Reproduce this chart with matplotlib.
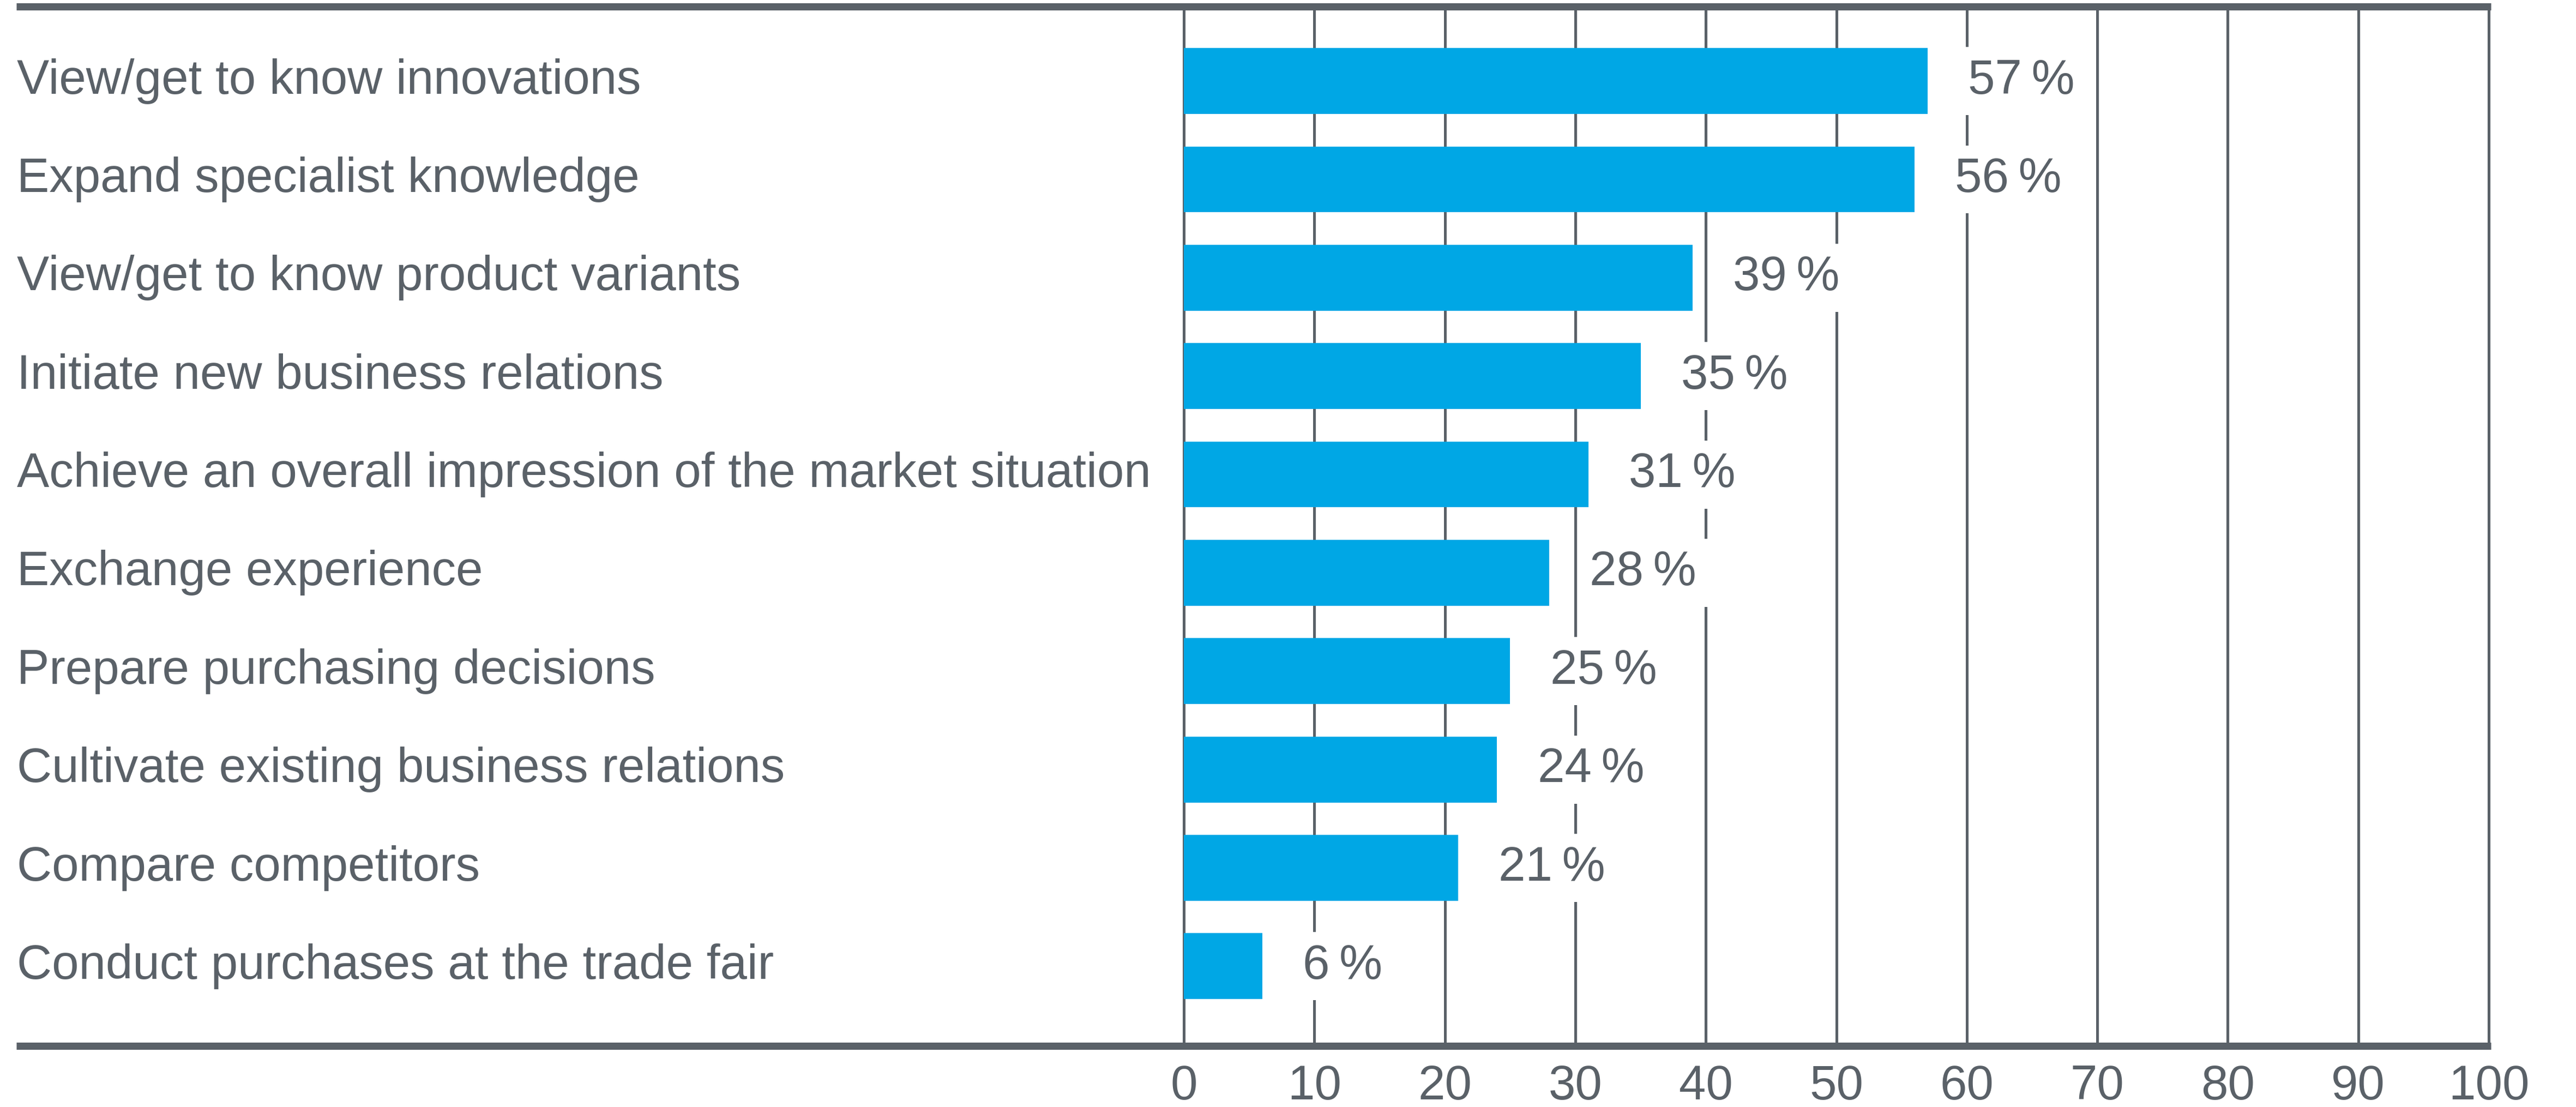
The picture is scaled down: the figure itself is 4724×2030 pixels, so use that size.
import matplotlib
matplotlib.use("Agg")
import matplotlib.pyplot as plt

categories = [
    "View/get to know innovations",
    "Expand specialist knowledge",
    "View/get to know product variants",
    "Initiate new business relations",
    "Achieve an overall impression of the market situation",
    "Exchange experience",
    "Prepare purchasing decisions",
    "Cultivate existing business relations",
    "Compare competitors",
    "Conduct purchases at the trade fair",
]
values = [57, 56, 39, 35, 31, 28, 25, 24, 21, 6]
xticks = [0, 10, 20, 30, 40, 50, 60, 70, 80, 90, 100]

BAR = "#00a7e5"
GRAY = "#5a6168"
plt.rcParams["font.family"] = ["Liberation Sans", "DejaVu Sans"]
FS = 64

W, H, DPI = 4724, 2030, 100
fig = plt.figure(figsize=(W / DPI, H / DPI), dpi=DPI)
left_px, right_px = 30, 4568
top_px, bot_px = 11.5, 1918
ax = fig.add_axes([left_px / W, 1 - bot_px / H, (right_px - left_px) / W, (bot_px - top_px) / H])

x0_px, x100_px = 2171, 4564
ppu = (x100_px - x0_px) / 100.0
xmin = -(x0_px - left_px) / ppu
xmax = 100 + (right_px - x100_px) / ppu
ax.set_xlim(xmin, xmax)
ax.set_ylim(9.81, -0.76)

# gridlines
ax.vlines(xticks, 9.81, -0.76, color=GRAY, lw=3.6, zorder=1)

n = len(categories)
ys = list(range(n))
ax.barh(ys, values, height=0.67, color=BAR, zorder=2)

for y, v, c in zip(ys, values, categories):
    ax.text(xmin + 0.05, y, c, ha="left", va="center", fontsize=FS, color=GRAY, zorder=3)
    ax.text(v + 3.1, y, f"{v}\u2009%", ha="left", va="center", fontsize=FS, color=GRAY,
            zorder=3, bbox=dict(facecolor="white", edgecolor="none", pad=15))

for s in ["left", "right"]:
    ax.spines[s].set_visible(False)
for s in ["top", "bottom"]:
    ax.spines[s].set_linewidth(9.5)
    ax.spines[s].set_color(GRAY)
    ax.spines[s].set_capstyle("butt")

ax.set_xticks(xticks)
ax.set_xticklabels([str(t) for t in xticks], fontsize=FS, color=GRAY)
ax.tick_params(axis="x", length=0, pad=24)
ax.set_yticks([])
ax.set_facecolor("white")
fig.patch.set_facecolor("white")

fig.savefig("out.png", dpi=DPI, facecolor="white")
